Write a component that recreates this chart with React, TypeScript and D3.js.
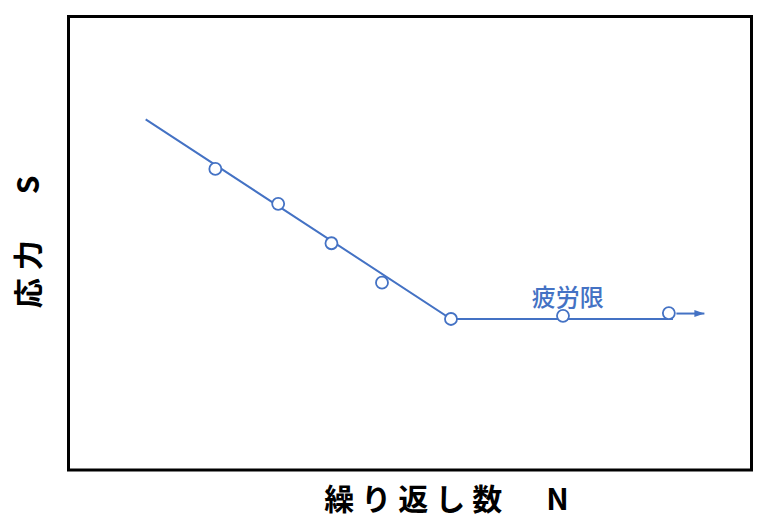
import * as d3 from "d3";

// S-N curve (schematic): stress S vs. number of cycles N
const sampleN = [21.5, 30.7, 38.5, 45.9, 56.0, 72.4, 87.9];
const sampleS = [66.4, 58.7, 50.0, 41.3, 33.3, 34.0, 34.6];
const curveN = [11.3, 56.0, 88.5];
const curveS = [77.3, 33.3, 33.3];
const arrowN = [89.0, 93.1];
const arrowS = [34.5, 34.5];

const xLabel = "繰り返し数　N";
const yLabel = "応力　S";
const limitLabel = "疲労限";
const limitLabelAt = [73.1, 36.2];

const width = 768;
const height = 523;
const margin = { top: 16.5, right: 16.5, bottom: 53, left: 68.5 };
const blue = "#4472C4";
const jpFont = "'Noto Sans CJK JP', 'Noto Sans', sans-serif";

export default function App() {
  const x = d3.scaleLinear([0, 100], [margin.left, width - margin.right]);
  const y = d3.scaleLinear([0, 100], [height - margin.bottom, margin.top]);

  const line = d3
    .line<number>()
    .x((d) => x(d))
    .y((_, i) => y(curveS[i]));

  const arrow = d3
    .line<number>()
    .x((d) => x(d))
    .y((_, i) => y(arrowS[i]));

  const tipX = x(arrowN[1]);
  const tipY = y(arrowS[1]);

  return (
    <svg
      width={width}
      height={height}
      style={{ position: "absolute", left: 0, top: 0, background: "#fff" }}
    >
      <rect
        x={margin.left}
        y={margin.top}
        width={width - margin.left - margin.right}
        height={height - margin.top - margin.bottom}
        fill="none"
        stroke="#000"
        strokeWidth={3}
      />
      <path d={line(curveN) ?? ""} fill="none" stroke={blue} strokeWidth={2} />
      <path d={arrow(arrowN) ?? ""} fill="none" stroke={blue} strokeWidth={2} />
      <path
        d={`M${tipX},${tipY}L${tipX - 10},${tipY - 3.5}L${tipX - 10},${tipY + 3.5}Z`}
        fill={blue}
      />
      {sampleN.map((n, i) => (
        <circle
          key={i}
          cx={x(n)}
          cy={y(sampleS[i])}
          r={6}
          fill="#fff"
          stroke={blue}
          strokeWidth={1.8}
        />
      ))}
      <text
        x={x(limitLabelAt[0])}
        y={y(limitLabelAt[1])}
        fill={blue}
        fontFamily={jpFont}
        fontSize={24}
        fontWeight={500}
        textAnchor="middle"
      >
        {limitLabel}
      </text>
      <text
        x={450}
        y={510}
        fontFamily={jpFont}
        fontSize={30}
        fontWeight="bold"
        letterSpacing={7}
        textAnchor="middle"
      >
        {xLabel}
      </text>
      <text
        transform="translate(39,238) rotate(-90)"
        fontFamily={jpFont}
        fontSize={30}
        fontWeight="bold"
        letterSpacing={8}
        textAnchor="middle"
      >
        {yLabel}
      </text>
    </svg>
  );
}
